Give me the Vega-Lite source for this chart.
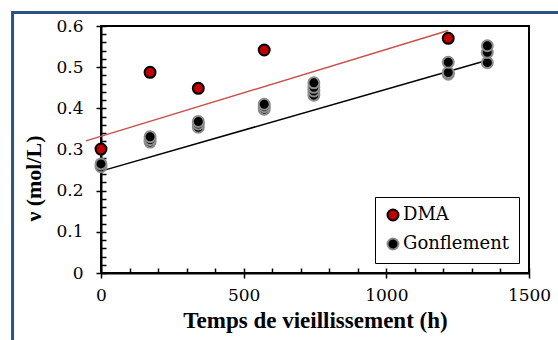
{
  "$schema": "https://vega.github.io/schema/vega-lite/v6.json",
  "width": 428,
  "height": 247,
  "autosize": {"type": "none"},
  "padding": {"left": 101, "top": 26, "right": 29, "bottom": 67},
  "background": "white",
  "config": {
    "view": {"stroke": "black", "strokeWidth": 2},
    "axis": {
      "labelColor": "black",
      "titleColor": "black",
      "domainColor": "black",
      "tickColor": "black",
      "domainWidth": 2,
      "tickWidth": 1.5,
      "grid": false,
      "labelFontSize": 17,
      "titleFontSize": 23,
      "titleFontWeight": "bold",
      "labelFlush": false,
      "labelOverlap": false
    }
  },
  "datasets": {
    "pts": [
      {"series": "DMA", "t": 0, "v": 0.301},
      {"series": "DMA", "t": 172, "v": 0.4875},
      {"series": "DMA", "t": 341, "v": 0.4486},
      {"series": "DMA", "t": 572, "v": 0.5416},
      {"series": "DMA", "t": 1217, "v": 0.570},
      {"series": "Gonflement", "t": 0, "v": 0.258},
      {"series": "Gonflement", "t": 0, "v": 0.265},
      {"series": "Gonflement", "t": 172, "v": 0.318},
      {"series": "Gonflement", "t": 172, "v": 0.324},
      {"series": "Gonflement", "t": 172, "v": 0.331},
      {"series": "Gonflement", "t": 341, "v": 0.354},
      {"series": "Gonflement", "t": 341, "v": 0.362},
      {"series": "Gonflement", "t": 341, "v": 0.368},
      {"series": "Gonflement", "t": 572, "v": 0.398},
      {"series": "Gonflement", "t": 572, "v": 0.404},
      {"series": "Gonflement", "t": 572, "v": 0.410},
      {"series": "Gonflement", "t": 746, "v": 0.432},
      {"series": "Gonflement", "t": 746, "v": 0.442},
      {"series": "Gonflement", "t": 746, "v": 0.451},
      {"series": "Gonflement", "t": 746, "v": 0.462},
      {"series": "Gonflement", "t": 1217, "v": 0.483},
      {"series": "Gonflement", "t": 1217, "v": 0.487},
      {"series": "Gonflement", "t": 1217, "v": 0.512},
      {"series": "Gonflement", "t": 1354, "v": 0.511},
      {"series": "Gonflement", "t": 1354, "v": 0.536},
      {"series": "Gonflement", "t": 1354, "v": 0.552}
    ],
    "lineDMA": [
      {"t": -53, "v": 0.321},
      {"t": 1217, "v": 0.589}
    ],
    "lineGonf": [
      {"t": 0, "v": 0.2474},
      {"t": 1354, "v": 0.517}
    ],
    "frame": [
      {"name": "frame"}
    ]
  },
  "resolve": {"axis": {"x": "independent", "y": "independent"}},
  "layer": [
    {
      "data": {"name": "frame"},
      "mark": {"type": "rect", "fill": "transparent", "stroke": "#2B5287", "strokeWidth": 3, "clip": false},
      "encoding": {
        "x": {"datum": -310, "type": "quantitative", "scale": {"domain": [0, 1500], "nice": false}, "axis": null},
        "x2": {"datum": 1610},
        "y": {"datum": 0.633, "type": "quantitative", "scale": {"domain": [0, 0.6], "nice": false}, "axis": null},
        "y2": {"datum": -0.18}
      }
    },
    {
      "data": {"name": "lineGonf"},
      "mark": {"type": "line", "color": "black", "strokeWidth": 1.5},
      "encoding": {
        "x": {"field": "t", "type": "quantitative", "scale": {"domain": [0, 1500], "nice": false},
          "axis": {"orient": "bottom", "values": [0,100,200,300,400,500,600,700,800,900,1000,1100,1200,1300,1400,1500], "labels": false, "domain": false, "tickSize": 5, "offset": -5, "title": null}},
        "y": {"field": "v", "type": "quantitative", "scale": {"domain": [0, 0.6], "nice": false},
          "axis": {"orient": "left", "values": [0,0.02,0.04,0.06,0.08,0.1,0.12,0.14,0.16,0.18,0.2,0.22,0.24,0.26,0.28,0.3,0.32,0.34,0.36,0.38,0.4,0.42,0.44,0.46,0.48,0.5,0.52,0.54,0.56,0.58,0.6], "labels": false, "domain": false, "tickSize": 5, "offset": -5, "title": null}}
      }
    },
    {
      "data": {"name": "lineDMA"},
      "mark": {"type": "line", "color": "#C8504D", "strokeWidth": 1.5, "clip": false},
      "encoding": {
        "x": {"field": "t", "type": "quantitative", "scale": {"domain": [0, 1500], "nice": false}, "axis": null},
        "y": {"field": "v", "type": "quantitative", "scale": {"domain": [0, 0.6], "nice": false}, "axis": null}
      }
    },
    {
      "data": {"name": "pts"},
      "mark": {"type": "point", "filled": true, "opacity": 1, "size": 120, "strokeWidth": 2},
      "encoding": {
        "x": {"field": "t", "type": "quantitative", "scale": {"domain": [0, 1500], "nice": false},
          "axis": {"orient": "bottom", "values": [0, 500, 1000, 1500], "format": "d", "tickSize": 5, "labelPadding": 9, "labelFont": "DejaVu Serif",
            "title": "Temps de vieillissement (h)", "titleFont": "Liberation Serif", "titlePadding": 6}},
        "y": {"field": "v", "type": "quantitative", "scale": {"domain": [0, 0.6], "nice": false},
          "axis": {"orient": "left", "values": [0, 0.1, 0.2, 0.3, 0.4, 0.5, 0.6], "tickSize": 5, "labelPadding": 13, "labelFont": "DejaVu Serif",
            "labelExpr": "datum.value == 0 ? '0' : format(datum.value, '.1f')",
            "title": "ν  (mol/L)", "titleFont": "Liberation Serif", "titleFontSize": 22, "titleX": -56, "titleY": 152}},
        "color": {"field": "series", "type": "nominal",
          "scale": {"domain": ["DMA", "Gonflement"], "range": ["#C00000", "black"]},
          "legend": {"title": null, "orient": "bottom-right", "offset": 10, "strokeColor": "black", "fillColor": "white", "padding": 9, "rowPadding": 9, "labelOffset": 1, "symbolSize": 120, "symbolStrokeWidth": 2, "symbolOpacity": 1, "labelFont": "DejaVu Serif", "labelFontSize": 18, "labelColor": "black"}},
        "stroke": {"field": "series", "type": "nominal",
          "scale": {"domain": ["DMA", "Gonflement"], "range": ["black", "#8C8C8C"]},
          "legend": null}
      }
    }
  ]
}
